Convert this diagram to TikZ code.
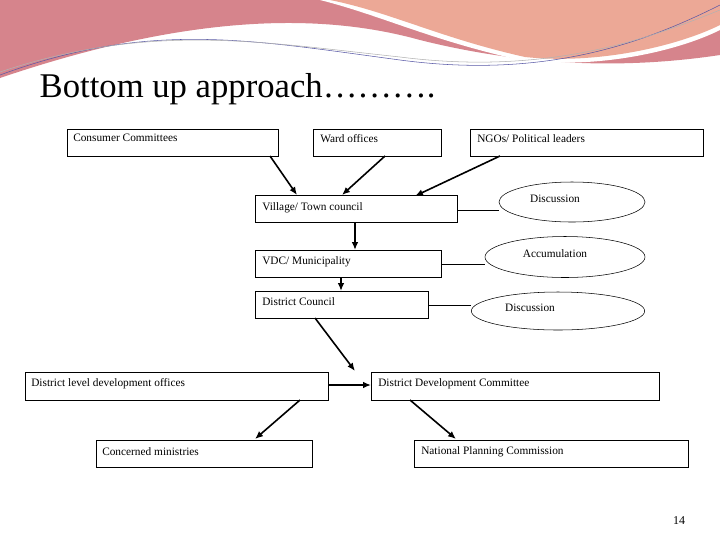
\documentclass[tikz,border=0pt]{standalone}
\usepackage{fontspec}
\setmainfont{Liberation Serif}
\usetikzlibrary{shapes.geometric,arrows.meta}
\definecolor{hdra}{RGB}{214,132,140}
\definecolor{hdrb}{RGB}{236,168,150}
\begin{document}
\begin{tikzpicture}[x=0.75pt,y=-0.75pt,
  box/.style={draw,thick,minimum height=20.25pt,inner sep=0pt,anchor=north west,font=\fontsize{8.5}{10}\selectfont},
  oval/.style={draw,ellipse,inner sep=0pt,font=\fontsize{8.5}{10}\selectfont},
  arr/.style={-{Latex[length=6pt,width=5pt]},line width=1.2pt},
  ln/.style={thin}]
\useasboundingbox (0,0) rectangle (720,540);
\fill[white] (0,0) rectangle (720,540);
% header decoration
\fill[hdra] (0,0) -- (720,0) -- (720,55) .. controls (620,70) and (520,65) .. (420,40) .. controls (330,15) and (200,10) .. (0,78) -- cycle;
\fill[white] (320,0) .. controls (380,15) and (430,40) .. (520,60) .. controls (600,70) and (680,50) .. (720,30) -- (720,0) -- cycle;
\fill[hdrb] (330,0) .. controls (390,12) and (440,38) .. (525,57) .. controls (600,65) and (680,45) .. (720,25) -- (720,0) -- cycle;
\draw[gray!70!blue,thin] (0,75) .. controls (150,20) and (250,40) .. (400,60) .. controls (550,80) and (650,40) .. (720,5);
\draw[gray!60,thin] (0,72) .. controls (150,22) and (260,42) .. (400,57) .. controls (550,76) and (650,38) .. (720,10);
\node[anchor=west,font=\fontsize{26}{28}\selectfont] (title) at (35,89) {Bottom up approach……….};
% boxes
\node[box,minimum width=158.25pt] (cc) at (67,129) {};
\node[anchor=north west,font=\fontsize{8.5}{10}\selectfont,inner sep=0pt] (cct) at (73,134) {Consumer Committees};
\node[box,minimum width=96pt] (wo) at (313,129) {};
\node[anchor=north west,font=\fontsize{8.5}{10}\selectfont,inner sep=0pt] (wot) at (320,134) {Ward offices};
\node[box,minimum width=174.75pt] (ngo) at (470,129) {};
\node[anchor=north west,font=\fontsize{8.5}{10}\selectfont,inner sep=0pt] (ngot) at (477,134) {NGOs/ Political leaders};
\node[box,minimum width=151.5pt] (vt) at (255,195) {};
\node[anchor=west,font=\fontsize{8.5}{10}\selectfont,inner sep=0pt] (vtt) at (262,208) {Village/ Town council};
\node[box,minimum width=139.5pt] (vdc) at (255,250) {};
\node[anchor=west,font=\fontsize{8.5}{10}\selectfont,inner sep=0pt] (vdct) at (262,262) {VDC/ Municipality};
\node[box,minimum width=129.75pt] (dc) at (255,291) {};
\node[anchor=north west,font=\fontsize{8.5}{10}\selectfont,inner sep=0pt] (dct) at (262,297) {District Council};
\node[box,minimum width=227.25pt,minimum height=21pt] (dl) at (25,372) {};
\node[anchor=west,font=\fontsize{8.5}{10}\selectfont,inner sep=0pt] (dlt) at (31,384) {District level development  offices};
\node[box,minimum width=216pt,minimum height=21pt] (ddc) at (371,372) {};
\node[anchor=west,font=\fontsize{8.5}{10}\selectfont,inner sep=0pt] (ddct) at (378,384) {District Development Committee};
\node[box,minimum width=162pt] (cm) at (96,440) {};
\node[anchor=west,font=\fontsize{8.5}{10}\selectfont,inner sep=0pt] (cmt) at (102,452) {Concerned ministries};
\node[box,minimum width=205.5pt] (npc) at (414,440) {};
\node[anchor=west,font=\fontsize{8.5}{10}\selectfont,inner sep=0pt] (npct) at (421,452) {National Planning Commission};
% ellipses
\node[oval,minimum width=109.5pt,minimum height=30pt] (e1) at (572,202) {};
\node[font=\fontsize{8.5}{10}\selectfont] (e1t) at (555,199) {Discussion};
\node[oval,minimum width=120pt,minimum height=30.75pt] (e2) at (565,257) {};
\node[font=\fontsize{8.5}{10}\selectfont] (e2t) at (555,254) {Accumulation};
\node[oval,minimum width=130pt,minimum height=28.5pt] (e3) at (558,311) {};
\node[font=\fontsize{8.5}{10}\selectfont] (e3t) at (530,308) {Discussion};
% connectors
\draw[ln] (vt.east |- 0,210) -- (e1.west |- 0,210);
\draw[ln] (vdc.east |- 0,264) -- (e2.west |- 0,264);
\draw[ln] (dc.east |- 0,305) -- (e3.west |- 0,305);
\coordinate (a1) at (270,156); \coordinate (b1) at (297,195);
\draw[arr] (a1) -- (b1);
\coordinate (a2) at (385,156); \coordinate (b2) at (342,195);
\draw[arr] (a2) -- (b2);
\coordinate (a3) at (500,156); \coordinate (b3) at (415,196);
\draw[arr] (a3) -- (b3);
\draw[arr] (355,222) -- (355,250);
\draw[arr] (341,277) -- (341,291);
\draw[arr] (315,318) -- (355,371);
\draw[arr] (dl.east |- 0,385) -- (ddc.west |- 0,385);
\draw[arr] (300,400) -- (255,439);
\draw[arr] (410,400) -- (456,439);
\node[font=\fontsize{9}{10}\selectfont] (pg) at (679,521) {14};
\end{tikzpicture}
\end{document}
